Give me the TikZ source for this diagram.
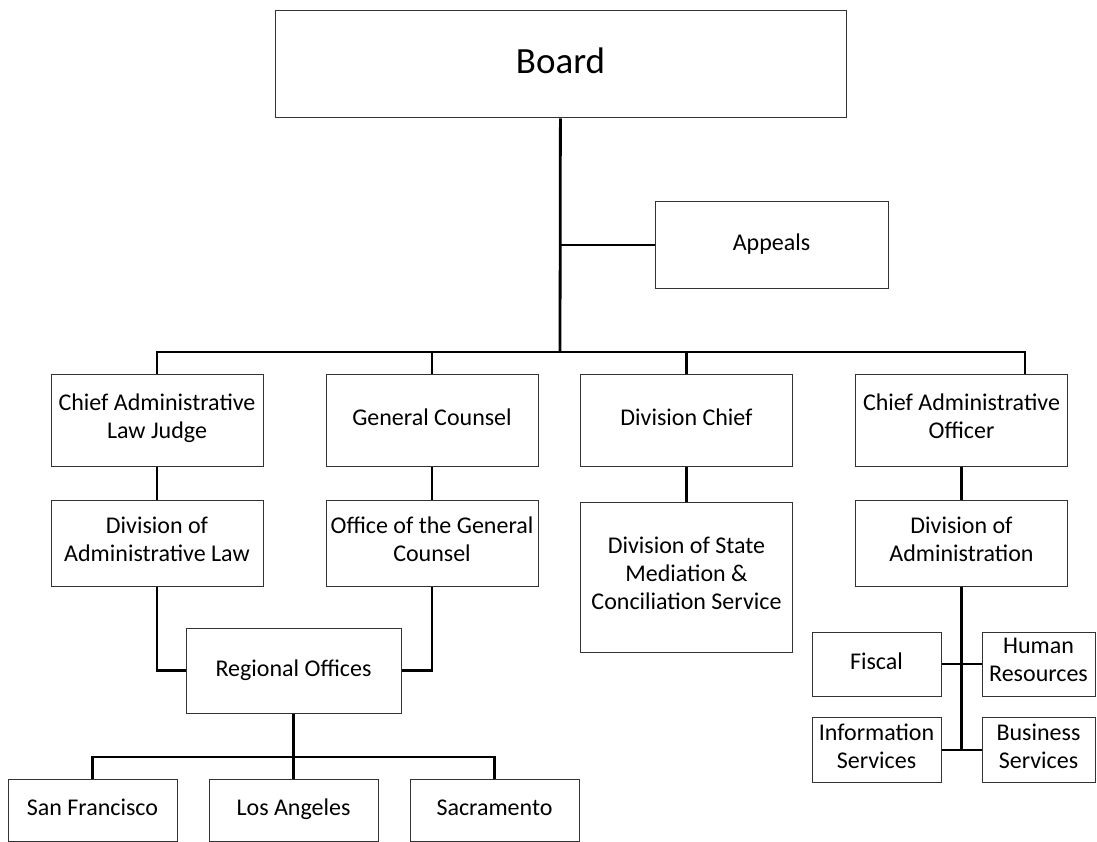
\documentclass[tikz,border=0pt]{standalone}
\usepackage{fontspec}
\setmainfont{Carlito}
\usetikzlibrary{positioning}

\begin{document}
\begin{tikzpicture}[x=1pt,y=-1pt,node distance=123pt,on grid,
      unit/.style={draw=black!80,line width=1pt,align=center,inner sep=2pt,
        minimum width=212pt,minimum height=92pt,font=\fontsize{24}{28}\selectfont,
        execute at begin node=\strut,execute at end node=\strut},
      small/.style={unit,minimum width=129pt,minimum height=64pt},
      link/.style={line width=2.8pt}]
  \useasboundingbox (0,0) rectangle (1097,842);
			\node[unit,minimum width=571pt,minimum height=107pt,font=\fontsize{37}{44}\selectfont] (board) at (560.5,64.5) {Board};
			\node[unit,minimum width=233pt,minimum height=86pt] (appeals) at (771.5,245) {Appeals};
      % first row under the board
			\node[unit] (caljudge) at (157,420) {Chief Administrative\\Law Judge};
			\node[unit] (gc) [right=275pt of caljudge] {General Counsel};
			\node[unit] (dchief) [right=254.5pt of gc] {Division Chief};
			\node[unit] (cao) [right=275pt of dchief] {Chief Administrative\\Officer};
      % divisions
			\node[unit,minimum height=86pt] (doal) [below=of caljudge] {Division of\\Administrative Law};
			\node[unit,minimum height=86pt] (ogc) [below=of gc] {Office of the General\\Counsel};
			\node[unit,minimum height=150pt] (dsmcs) [below=157pt of dchief] {Division of State\\Mediation \&\\Conciliation Service};
			\node[unit,minimum height=86pt] (doa) [below=of cao] {Division of\\Administration};
      % regional offices
			\node[unit,minimum width=215pt,minimum height=85pt] (regional) at (293.5,670.5) {Regional Offices};
			\node[unit,minimum width=169pt,minimum height=62pt] (la) [below=139.5pt of regional] {Los Angeles};
			\node[unit,minimum width=169pt,minimum height=62pt] (sf) [left=201pt of la] {San Francisco};
			\node[unit,minimum width=169pt,minimum height=62pt] (sac) [right=201pt of la] {Sacramento};
      % administration units
			\node[small] (fiscal) at (876.5,664) {Fiscal};
			\node[small,minimum width=113pt] (hr) [right=162pt of fiscal] {Human\\Resources};
			\node[small,minimum height=65pt] (infosvc) [below=86pt of fiscal] {Information\\Services};
			\node[small,minimum width=113pt,minimum height=65pt] (bizsvc) [right=162pt of infosvc] {Business\\Services};
			\coordinate (bus) at (560,352);
			\coordinate (busend) at (1025,352);
			\coordinate (rbus) at (293.5,757);
			\draw[link] (board) -- (bus);
			\draw[link] (appeals) -- (appeals -| bus);
			\draw[link] (caljudge) |- (busend) -- (busend |- cao.north);
			\draw[link] (gc) -- (gc |- bus);
			\draw[link] (dchief) -- (dchief |- bus);
			\path[link]
				(caljudge) edge (doal)
				(gc) edge (ogc)
				(dchief) edge (dsmcs)
				(cao) edge (doa);
			\draw[link] (doal) |- (regional);
			\draw[link] (ogc) |- (regional);
			\draw[link] (regional) -- (rbus);
			\draw[link] (sf) |- (rbus) -| (sac);
			\draw[link] (la) -- (rbus);
			\draw[link] (doa) -- (doa |- infosvc);
			\draw[link] (fiscal) -- (hr);
			\draw[link] (infosvc) -- (bizsvc);
		\end{tikzpicture}
\end{document}
